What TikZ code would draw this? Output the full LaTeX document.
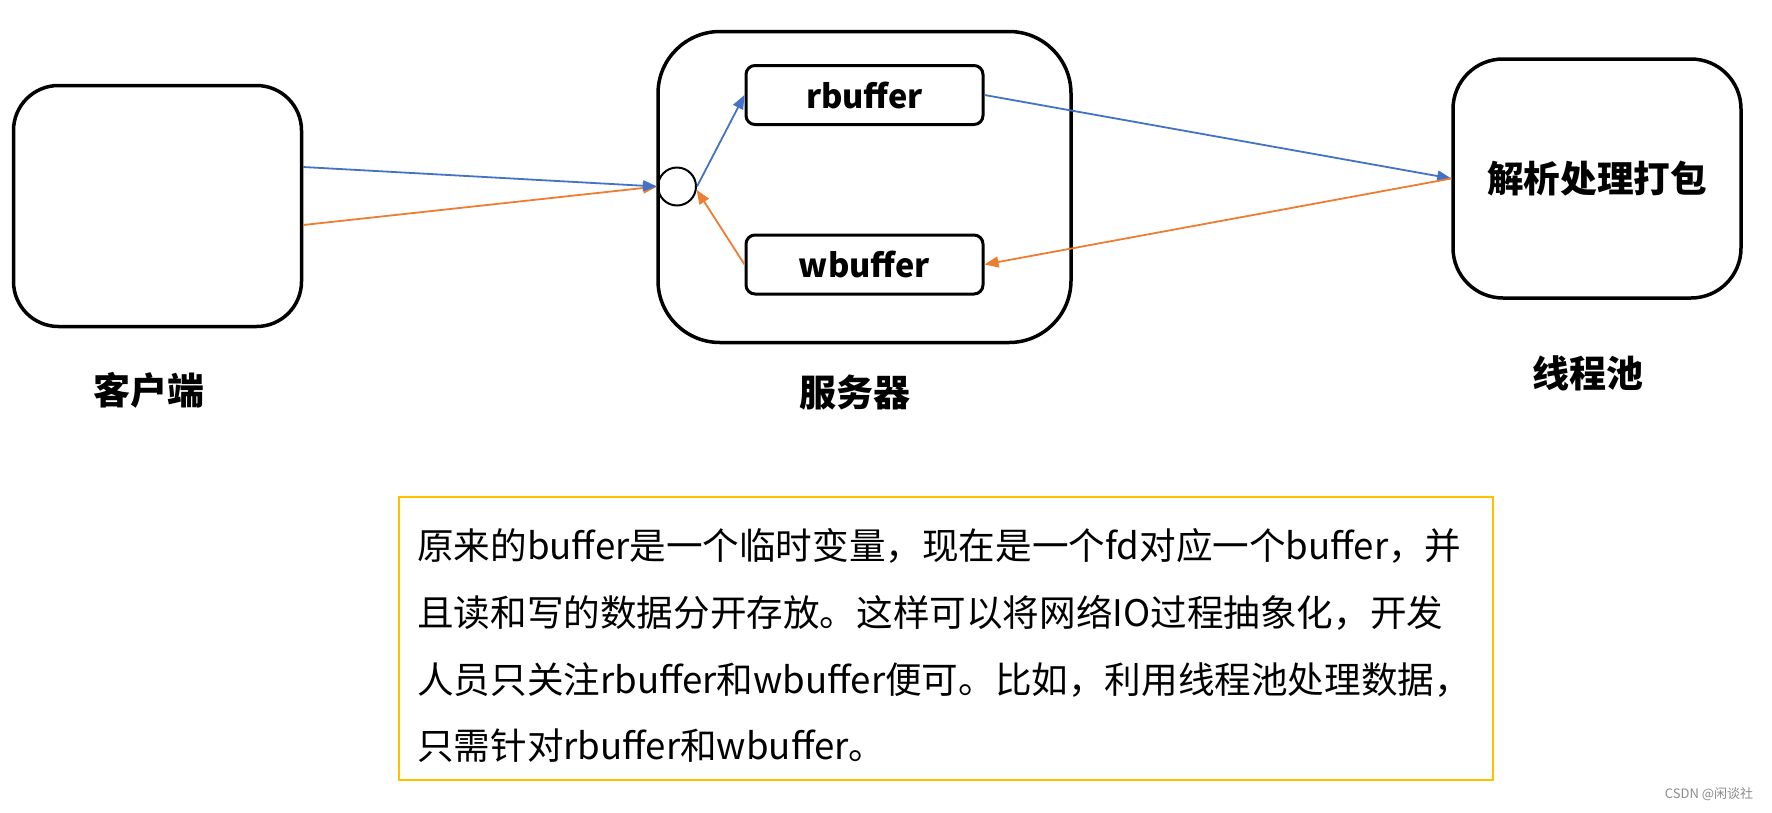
\documentclass[tikz,border=0pt]{standalone}
\usepackage{fontspec}
\setmainfont{Noto Sans CJK SC}
\newfontfamily\cjk{Noto Sans CJK SC}
\usetikzlibrary{arrows.meta}
\definecolor{lblue}{HTML}{4472C4}
\definecolor{lorange}{HTML}{ED7D31}
\definecolor{lyellow}{HTML}{FFC000}
\tikzset{
  bigbox/.style={draw=black, line width=3.5pt, rounded corners=#1, inner sep=0pt},
  bufbox/.style={draw=black, line width=3pt, rounded corners=9pt, minimum width=237pt, minimum height=59pt, inner sep=0pt, font=\cjk\bfseries\fontsize{32.6}{38}\selectfont},
  lbl/.style={font=\cjk\bfseries\fontsize{37}{42}\selectfont, inner sep=0pt},
  bodytxt/.style={font=\cjk\fontsize{36.6}{42}\selectfont, anchor=west, inner sep=0pt},
  bl/.style={draw=lblue, line width=1.8pt, -{Triangle[length=14pt,width=11pt]}},
  ol/.style={draw=lorange, line width=1.8pt, -{Triangle[length=14pt,width=11pt]}},
}
\begin{document}
\begin{tikzpicture}[x=1pt,y=-1pt]
\useasboundingbox[fill=white] (0,0) rectangle (1772,812);
% boxes
\node[bigbox=45pt, minimum width=288pt, minimum height=241pt] (client) at (157.5,206) {};
\node[bigbox=62pt, minimum width=413pt, minimum height=311pt] (server) at (864.5,187) {};
\node[bufbox] (rbuf) at (864.5,95) {rbuffer};
\node[bufbox] (wbuf) at (864.5,264.5) {wbuffer};
\node[draw=black, line width=2pt, circle, minimum size=38pt, inner sep=0pt] (circ) at (677,186.5) {};
\node[bigbox=50pt, minimum width=288pt, minimum height=239pt, font=\cjk\bfseries\fontsize{36.6}{42}\selectfont] (pool) at (1597,178.5) {解析处理打包};
% labels
\node[lbl] (lclient) at (149,390) {客户端};
\node[lbl] (lserver) at (855,392) {服务器};
\node[lbl] (lpool) at (1588,373) {线程池};
% connectors
\draw[ol] ([yshift=-19pt]client.east) -- (circ.west);
\draw[bl] ([yshift=39pt]client.east) -- (circ.west);
\draw[bl] (circ.east) -- (rbuf.west);
\draw[ol] (wbuf.west) -- (circ.-10);
\draw[bl] (rbuf.east) -- (pool.west);
\draw[ol] (pool.west) -- (wbuf.east);
% note box
\node[draw=lyellow, line width=2pt, minimum width=1094pt, minimum height=283pt, inner sep=0pt] (note) at (946,638.5) {};
\node[bodytxt] (t1) at (417,546) {原来的buffer是一个临时变量，现在是一个fd对应一个buffer，并};
\node[bodytxt] (t2) at (417,612.5) {且读和写的数据分开存放。这样可以将网络IO过程抽象化，开发};
\node[bodytxt] (t3) at (417,680) {人员只关注rbuffer和wbuffer便可。比如，利用线程池处理数据，};
\node[bodytxt] (t4) at (417,746) {只需针对rbuffer和wbuffer。};
% watermark
\node[font=\cjk\fontsize{13}{15}\selectfont, text=black!45, inner sep=0pt] (wm) at (1709,794) {CSDN @闲谈社};
\end{tikzpicture}
\end{document}
